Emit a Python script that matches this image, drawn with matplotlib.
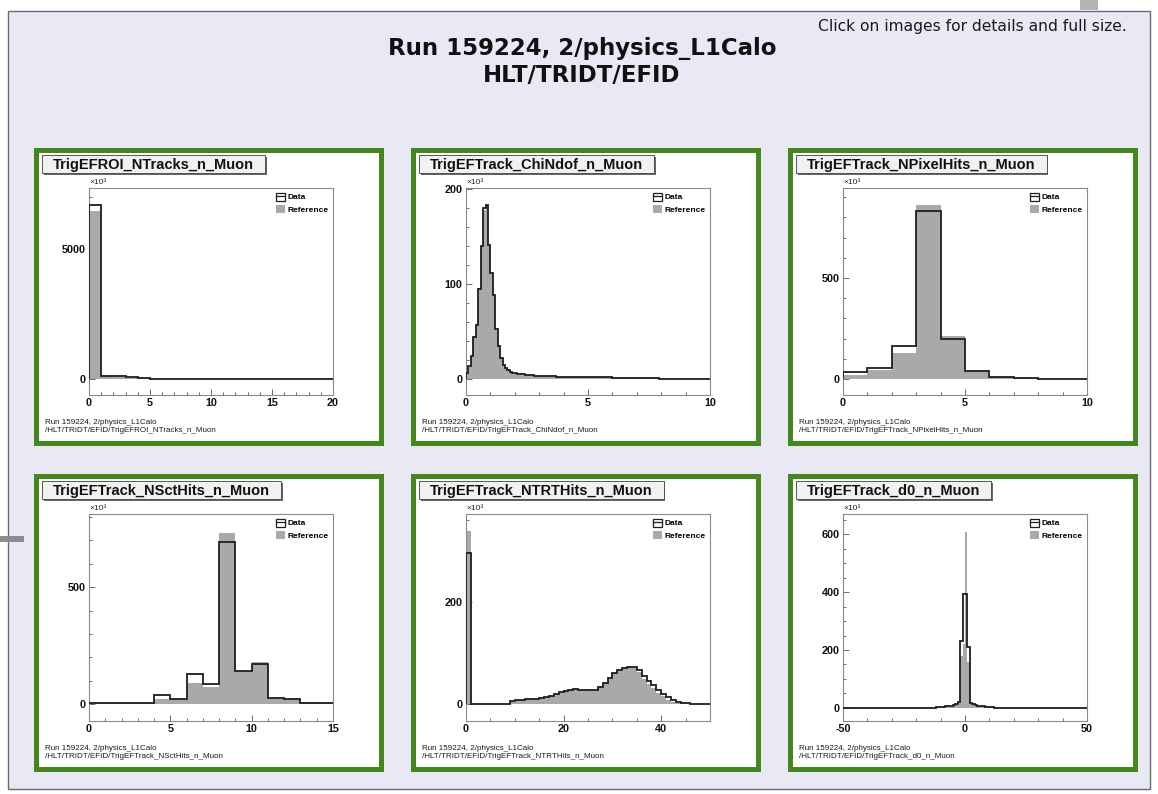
import matplotlib
matplotlib.use("Agg")
import matplotlib.pyplot as plt
from matplotlib.patches import Rectangle, Patch
from matplotlib.lines import Line2D
from matplotlib.ticker import MultipleLocator
import numpy as np

# ---------------- text ----------------
page_title = ["Run 159224, 2/physics_L1Calo", "HLT/TRIDT/EFID"]
page_note = "Click on images for details and full size."
run_label = "Run 159224, 2/physics_L1Calo"
path_prefix = "/HLT/TRIDT/EFID/"
legend_labels = ["Data", "Reference"]
hist_names = ["TrigEFROI_NTracks_n_Muon", "TrigEFTrack_ChiNdof_n_Muon",
              "TrigEFTrack_NPixelHits_n_Muon", "TrigEFTrack_NSctHits_n_Muon",
              "TrigEFTrack_NTRTHits_n_Muon", "TrigEFTrack_d0_n_Muon"]

# ---------------- data (units of 10^3) ----------------
ntracks_edges = np.linspace(0, 20, 21)
ntracks_data = [6710, 115, 100, 64, 48, 10, 5, 3, 2, 1, 0, 0, 0, 0, 0, 0, 0, 0, 0, 0]
ntracks_ref = [6450, 100, 90, 58, 42, 9, 4, 3, 2, 1, 0, 0, 0, 0, 0, 0, 0, 0, 0, 0]

chi_edges = np.linspace(0, 10, 101)
chi_data = [6, 14, 24, 44, 57, 95, 140, 180, 183, 141, 111, 88, 52, 35, 22, 15, 11, 9, 7.5, 6.5,
            6, 5.5, 5, 4.6, 4.3, 4.0, 3.8, 3.6, 3.4, 3.2, 3.1, 3.0, 2.9, 2.8, 2.7, 2.6, 2.5, 2.4, 2.3, 2.2,
            2.2, 2.1, 2.1, 2.0, 2.0, 1.9, 1.9, 1.8, 1.8, 1.8, 1.7, 1.7, 1.7, 1.6, 1.6, 1.6, 1.5, 1.5, 1.5, 1.5,
            1.4, 1.4, 1.4, 1.4, 1.3, 1.3, 1.3, 1.3, 1.2, 1.2, 1.2, 1.2, 1.1, 1.1, 1.1, 1.1, 1.0, 1.0, 0.6, 0.3,
            0.2, 0.2, 0.1, 0.1, 0.1, 0, 0, 0, 0, 0, 0, 0, 0, 0, 0, 0, 0, 0, 0, 0]
chi_ref = [5, 13, 25, 45, 58, 96, 139, 178, 181, 140, 110, 87, 52, 35, 22, 15, 11, 9, 7.4, 6.4,
           5.9, 5.4, 5, 4.6, 4.2, 4.0, 3.8, 3.5, 3.3, 3.2, 3.0, 2.9, 2.8, 2.7, 2.6, 2.5, 2.4, 2.3, 2.2, 2.2,
           2.1, 2.1, 2.0, 2.0, 1.9, 1.9, 1.8, 1.8, 1.8, 1.7, 1.7, 1.7, 1.6, 1.6, 1.6, 1.5, 1.5, 1.5, 1.4, 1.4,
           1.4, 1.4, 1.3, 1.3, 1.3, 1.3, 1.2, 1.2, 1.2, 1.2, 1.1, 1.1, 1.1, 1.1, 1.0, 1.0, 1.0, 0.9, 0.5, 0.3,
           0.2, 0.2, 0.1, 0.1, 0.1, 0, 0, 0, 0, 0, 0, 0, 0, 0, 0, 0, 0, 0, 0, 0]

pixel_edges = np.linspace(0, 10, 11)
pixel_data = [33, 56, 166, 831, 197, 40, 12, 3, 1, 0]
pixel_ref = [20, 45, 131, 864, 215, 40, 12, 3, 1, 0]

sct_edges = np.linspace(0, 15, 16)
sct_data = [3, 3, 7, 7, 38, 21, 127, 85, 693, 141, 173, 28, 24, 7, 3]
sct_ref = [3, 3, 7, 7, 24, 21, 92, 73, 732, 141, 179, 28, 21, 8, 3]

trt_edges = np.linspace(0, 50, 51)
trt_data = [296, 0, 0, 0, 0, 0, 0, 0, 0,
            6, 8, 9, 10, 10, 11, 12, 14, 16, 19, 23, 26, 28, 29, 28, 27, 27, 28, 33, 42,
            52, 60, 66, 70, 72, 72, 66, 56, 46, 37, 28, 20, 13, 8, 5, 3, 2, 1, 0.5, 0, 0]
trt_ref = [339, 0, 0, 0, 0, 0, 0, 0, 0,
           6, 8, 9, 10, 10, 11, 12, 14, 16, 19, 23, 26, 28, 29, 28, 27, 27, 28, 33, 42,
           52, 60, 66, 70, 72, 71, 62, 50, 40, 31, 22, 15, 9, 5, 3, 2, 1, 0.5, 0.3, 0, 0]

d0_edges = np.linspace(-50, 50, 101)
d0_data = [0] * 38 + [2, 2, 3, 4, 5, 6, 7, 9, 12, 20, 230, 395, 395, 210, 18, 12, 9, 7, 6, 5, 4, 3, 2, 2] + [0] * 38
d0_ref = [0] * 38 + [1, 2, 2, 3, 4, 5, 6, 8, 10, 18, 180, 220, 610, 160, 15, 10, 8, 6, 5, 4, 3, 2, 2, 1] + [0] * 38

panels = [
    dict(edges=ntracks_edges, data=ntracks_data, ref=ntracks_ref, xlim=(0, 20), ylim=(-615, 7350),
         xmaj=5, xmin=1, ymaj=5000, ymin=1000),
    dict(edges=chi_edges, data=chi_data, ref=chi_ref, xlim=(0, 10), ylim=(-17, 201),
         xmaj=5, xmin=1, ymaj=100, ymin=20),
    dict(edges=pixel_edges, data=pixel_data, ref=pixel_ref, xlim=(0, 10), ylim=(-79, 946),
         xmaj=5, xmin=1, ymaj=500, ymin=100),
    dict(edges=sct_edges, data=sct_data, ref=sct_ref, xlim=(0, 15), ylim=(-72, 813),
         xmaj=5, xmin=1, ymaj=500, ymin=100),
    dict(edges=trt_edges, data=trt_data, ref=trt_ref, xlim=(0, 50), ylim=(-33, 372),
         xmaj=20, xmin=5, ymaj=200, ymin=40),
    dict(edges=d0_edges, data=d0_data, ref=d0_ref, xlim=(-50, 50), ylim=(-46, 671),
         xmaj=50, xmin=10, ymaj=200, ymin=50),
]

# ---------------- style ----------------
W, H = 1158, 794
PAGE_BG = "#e8e9f5"
GREEN = "#43871d"
REF_GREY = "#a9a9a9"
LINE = "#1e1e1e"
PX = 0.72  # points per pixel at 100 dpi

plt.rcParams["font.family"] = ["Liberation Sans", "DejaVu Sans"]
plt.rcParams["font.weight"] = "bold"
plt.rcParams["axes.unicode_minus"] = False

fig = plt.figure(figsize=(W / 100, H / 100), dpi=100)
fig.patch.set_facecolor("white")
bg = fig.add_axes([0, 0, 1, 1])
bg.set_xlim(0, W)
bg.set_ylim(H, 0)
bg.axis("off")

# page frame
bg.add_patch(Rectangle((8, 11), 1142, 778, fc=PAGE_BG, ec="#6a6a6a", lw=1.0 * PX * 1.4))
bg.add_patch(Rectangle((0, 536), 24, 6, fc="#8c8c8c", ec="none"))
bg.add_patch(Rectangle((1080, 0), 18, 10, fc="#b5b5b5", ec="none"))

# header texts
bg.text(1127, 27, page_note, ha="right", va="center", fontsize=11.2, fontweight="normal",
        family=["DejaVu Sans"], color="#1a1a1a")
bg.text(582, 48, page_title[0], ha="center", va="center", fontsize=16.5, fontweight="bold",
        family=["DejaVu Sans"], color="#111111")
bg.text(582, 76, page_title[1], ha="center", va="center", fontsize=16.5, fontweight="bold",
        family=["DejaVu Sans"], color="#111111")

col_x = [33, 410, 787]
row_y = [147, 473]
PW, PH = 350, 298

renderer = fig.canvas.get_renderer()

for k, p in enumerate(panels):
    px = col_x[k % 3]
    py = row_y[k // 3]
    # green frame with white interior
    bg.add_patch(Rectangle((px + 2.5, py + 2.5), PW - 5, PH - 5, fc="white", ec=GREEN, lw=5 * PX))

    # title box
    t = bg.text(px + 20, py + 17.5, hist_names[k], ha="left", va="center", fontsize=10.5,
                fontweight="bold", color="#111111", zorder=5)
    bb = t.get_window_extent(renderer)
    tw = bb.width
    bg.add_patch(Rectangle((px + 10.5, py + 9.5), tw + 22, 18, fc="#666666", ec="none", zorder=3))
    bg.add_patch(Rectangle((px + 9, py + 8), tw + 22, 18, fc="#f1f1f1", ec="#4a4a4a",
                           lw=0.9 * PX, zorder=4))

    # footer
    bg.text(px + 12, py + 276, run_label, ha="left", va="center", fontsize=5.8,
            fontweight="normal", color="#1a1a1a")
    bg.text(px + 12, py + 284, path_prefix + hist_names[k], ha="left", va="center", fontsize=5.8,
            fontweight="normal", color="#1a1a1a")

    # histogram axes
    x0, x1 = px + 56, px + 300
    y0, y1 = py + 41, py + 248
    ax = fig.add_axes([x0 / W, 1 - y1 / H, (x1 - x0) / W, (y1 - y0) / H])
    ax.set_facecolor("white")
    ax.stairs(p["ref"], p["edges"], fill=True, color=REF_GREY, baseline=0, zorder=2)
    ax.stairs(p["data"], p["edges"], color=LINE, lw=1.3, baseline=0, zorder=3)
    ax.set_xlim(*p["xlim"])
    ax.set_ylim(*p["ylim"])
    ax.xaxis.set_major_locator(MultipleLocator(p["xmaj"]))
    ax.xaxis.set_minor_locator(MultipleLocator(p["xmin"]))
    ax.yaxis.set_major_locator(MultipleLocator(p["ymaj"]))
    ax.yaxis.set_minor_locator(MultipleLocator(p["ymin"]))
    ax.tick_params(axis="both", which="both", direction="in", top=False, right=False,
                   color="#555555", labelcolor="#111111", labelsize=7.8, width=0.6, pad=2.5)
    ax.tick_params(which="major", length=6 * PX)
    ax.tick_params(which="minor", length=3 * PX)
    for s in ax.spines.values():
        s.set_color("#8a8a8a")
        s.set_linewidth(0.8)
    ax.text(0.0, 1.008, "×10³", transform=ax.transAxes, ha="left", va="bottom", fontsize=6,
            fontweight="normal", color="#222222")
    handles = [(Patch(fc="white", ec=LINE, lw=0.9), Line2D([], [], color=LINE, lw=0.9)),
               Patch(fc=REF_GREY, ec="none")]
    ax.legend(handles, legend_labels, loc="upper right", frameon=False,
              prop=dict(family="Liberation Sans", size=6, weight="bold"),
              handlelength=1.0, handleheight=1.1, handletextpad=0.3, borderaxespad=0.35,
              labelspacing=0.45, borderpad=0.2)

fig.savefig("out.png", dpi=100, facecolor=fig.get_facecolor())
